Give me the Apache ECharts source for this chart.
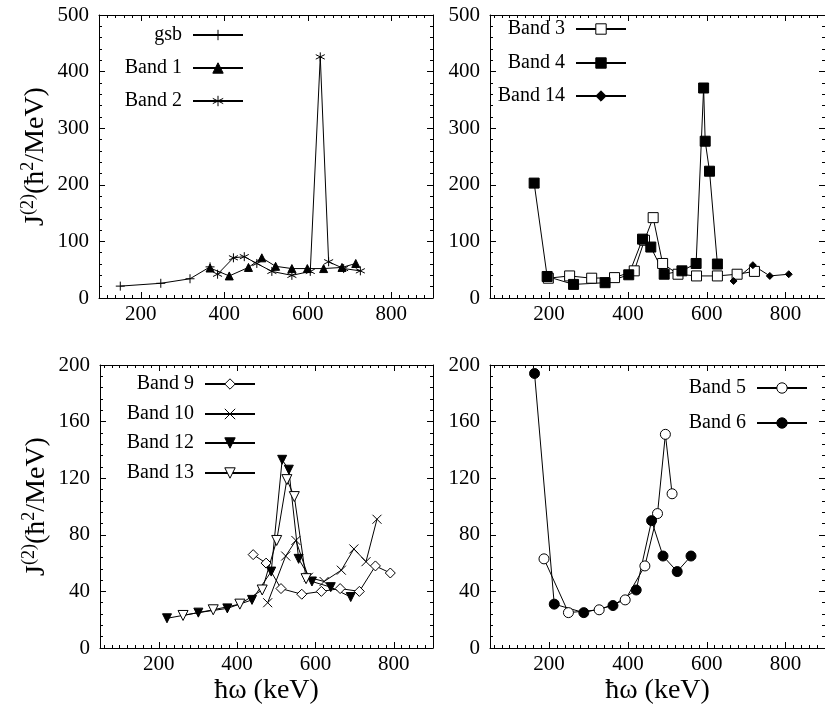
<!DOCTYPE html>
<html><head><meta charset="utf-8">
<script src="https://cdn.jsdelivr.net/npm/echarts@6/dist/echarts.min.js"></script>
<style>html,body{margin:0;padding:0;background:#fff}#c{width:825px;height:717px}</style>
</head><body><div id="c"></div>
<script>
// ---- data (x = ħω in keV, y = J(2) in ħ²/MeV) ----
const gsb    = [[151,21],[248,26],[318,34],[366,55]];
const band1  = [[366,53],[412,39],[458,54],[490,71],[523,56],[562,52],[599,52],[638,52],[682,54],[715,61]];
const band2  = [[384,42],[422,71],[448,73],[478,61],[514,47],[562,40],[606,47],[630,426],[650,64],[686,52],[726,48]];
const band3  = [[198,35],[252,39],[308,35],[366,36],[416,48],[442,102],[464,142],[488,61],[527,42],[574,39],[627,39],[677,42],[721,47]];
const band4  = [[162,203],[195,38],[262,24],[342,27],[402,41],[437,104],[458,90],[492,42],[537,48],[573,61],[592,371],[596,277],[607,224],[627,60]];
const band14 = [[668,30],[717,58],[760,39],[808,42]];
const band9  = [[441,66],[474,60],[512,42],[565,38],[615,40],[663,42],[712,40],[753,58],[791,53]];
const band10 = [[478,32],[524,65],[550,76],[582,50],[622,47],[666,55],[698,70],[729,61],[757,91]];
const band12 = [[221,21],[301,25],[375,28],[438,34],[487,54],[515,133],[532,126],[557,63],[591,47],[639,43],[690,36]];
const band13 = [[262,23],[339,27],[407,31],[464,41],[501,76],[527,119],[546,107],[576,49]];
const band5  = [[187,63],[249,25],[327,27],[393,34],[443,58],[475,95],[495,151],[512,109]];
const band6  = [[163,194],[213,31],[288,25],[362,30],[421,41],[460,90],[489,65],[525,54],[560,65]];

const xTickLabels = [200, 400, 600, 800];
const yTopMax = 500, yTopStep = 100;
const yBotMax = 200, yBotStep = 40;

// ---- styling ----
const FONT = 'Liberation Serif';
const BLACK = '#000';
const WHITE = '#fff';
const P_PLUS = 'path://M5,0L5,10M0,5L10,5';
const P_CROSS = 'path://M0,0L10,10M10,0L0,10';
const P_STAR = 'path://M5,0L5,10M0.7,2.5L9.3,7.5M0.7,7.5L9.3,2.5';

const grids = [
  {left: 99,  top: 15,  width: 334, height: 283},
  {left: 490, top: 15,  width: 341, height: 283},
  {left: 100, top: 365, width: 333, height: 283},
  {left: 490, top: 365, width: 341, height: 283}
];
const xRanges = [[100, 900], [50, 900], [50, 900], [50, 900]];

function minorList(min, max) {
  const out = [];
  for (let v = Math.ceil(min / 20) * 20; v < max; v += 20) {
    if (v > min && v % 200 !== 0) out.push(v);
  }
  return out;
}

const xAxes = [], yAxes = [];
grids.forEach((g, i) => {
  const [mn, mx] = xRanges[i];
  const minor = minorList(mn, mx);
  const base = {type: 'value', gridIndex: i, min: mn, max: mx, splitLine: {show: false}};
  const line = {show: true, lineStyle: {color: BLACK, width: 1}};
  xAxes.push(Object.assign({}, base, {
    position: 'bottom', axisLine: line,
    axisTick: {show: true, inside: true, length: 6, customValues: xTickLabels, lineStyle: {color: BLACK}},
    axisLabel: {show: true, customValues: xTickLabels, color: BLACK, fontFamily: FONT, fontSize: 21, margin: 6},
    name: i >= 2 ? 'ħω (keV)' : '', nameLocation: 'middle', nameGap: 29,
    nameTextStyle: {fontFamily: FONT, fontSize: 28, color: BLACK}
  }));
  xAxes.push(Object.assign({}, base, {
    position: 'bottom', axisLine: {show: false},
    axisTick: {show: true, inside: true, length: 3, customValues: minor, lineStyle: {color: BLACK}},
    axisLabel: {show: false}
  }));
  xAxes.push(Object.assign({}, base, {
    position: 'top', axisLine: line,
    axisTick: {show: true, inside: true, length: 6, customValues: xTickLabels, lineStyle: {color: BLACK}},
    axisLabel: {show: false}
  }));
  xAxes.push(Object.assign({}, base, {
    position: 'top', axisLine: {show: false},
    axisTick: {show: true, inside: true, length: 3, customValues: minor, lineStyle: {color: BLACK}},
    axisLabel: {show: false}
  }));
  const top = i < 2;
  const ybase = {
    type: 'value', gridIndex: i, min: 0, max: top ? yTopMax : yBotMax, interval: top ? yTopStep : yBotStep,
    splitLine: {show: false}, axisLine: line,
    axisTick: {show: true, inside: true, length: 6, lineStyle: {color: BLACK}},
    minorTick: {show: true, splitNumber: 5, length: 3, lineStyle: {color: BLACK}}
  };
  const showName = (i === 0 || i === 2);
  yAxes.push(Object.assign({}, ybase, {
    position: 'left',
    axisLabel: {show: true, color: BLACK, fontFamily: FONT, fontSize: 21, margin: 10},
    name: showName ? '{n|J}{s|(2)}{n|(ħ}{s|2}{n|/MeV)}' : '',
    nameLocation: 'middle', nameGap: 47,
    nameTextStyle: {
      color: BLACK, fontFamily: FONT, fontSize: 28,
      rich: {
        n: {fontFamily: FONT, fontSize: 28, color: BLACK},
        s: {fontFamily: FONT, fontSize: 18, color: BLACK, padding: [0, 0, 15, 0]}
      }
    }
  }));
  yAxes.push(Object.assign({}, ybase, {position: 'right', axisLabel: {show: false}}));
});

function S(name, data, grid, symbol, size, fill, extra) {
  return Object.assign({
    type: 'line', name, data,
    xAxisIndex: grid * 4, yAxisIndex: grid * 2,
    symbol, symbolSize: size,
    lineStyle: {color: BLACK, width: 1},
    itemStyle: {color: fill, borderColor: BLACK, borderWidth: 1},
    animation: false, clip: false, z: 3
  }, extra || {});
}

const series = [
  S('gsb', gsb, 0, P_PLUS, 9, BLACK),
  S('Band 1', band1, 0, 'triangle', 8, BLACK),
  S('Band 2', band2, 0, P_STAR, 9, BLACK),
  S('Band 3', band3, 1, 'rect', 10, WHITE),
  S('Band 4', band4, 1, 'rect', 10, BLACK),
  S('Band 14', band14, 1, 'diamond', 7, BLACK),
  S('Band 9', band9, 2, 'diamond', 10, WHITE),
  S('Band 10', band10, 2, P_CROSS, 9, BLACK),
  S('Band 12', band12, 2, 'triangle', 9, BLACK, {symbolRotate: 180}),
  S('Band 13', band13, 2, 'triangle', 10, WHITE, {symbolRotate: 180}),
  S('Band 5', band5, 3, 'circle', 10, WHITE),
  S('Band 6', band6, 3, 'circle', 10, BLACK)
];

function L(name, right, cy, fill) {
  return {
    data: [name], orient: 'vertical', align: 'right', right, top: cy - 10, padding: 0,
    itemWidth: 50, itemHeight: 13, selectedMode: false,
    itemStyle: {color: fill, borderColor: BLACK, borderWidth: 1},
    textStyle: {fontFamily: FONT, fontSize: 20, color: BLACK, lineHeight: 20, padding: [0, 6, 0, 0]}
  };
}

const legends = [
  L('gsb', 581, 35, BLACK), L('Band 1', 581, 68, BLACK), L('Band 2', 581, 101, BLACK),
  L('Band 3', 198, 29, WHITE), L('Band 4', 198, 63, BLACK), L('Band 14', 198, 96, BLACK),
  L('Band 9', 569, 384, WHITE), L('Band 10', 569, 414, BLACK), L('Band 12', 569, 443, BLACK), L('Band 13', 569, 473, WHITE),
  L('Band 5', 17, 388, WHITE), L('Band 6', 17, 423, BLACK)
];

const chart = echarts.init(document.getElementById('c'), null, {renderer: 'canvas'});
chart.setOption({
  backgroundColor: '#fff',
  animation: false,
  grid: grids,
  xAxis: xAxes,
  yAxis: yAxes,
  legend: legends,
  series
});
</script></body></html>
